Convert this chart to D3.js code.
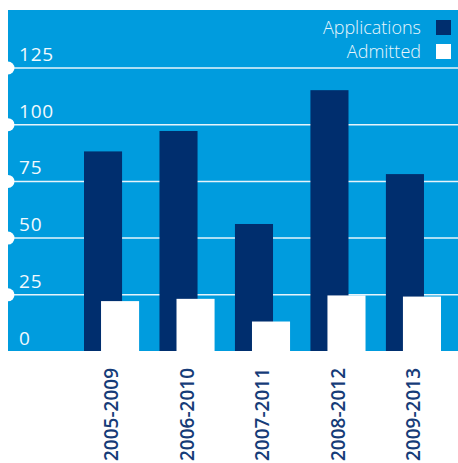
<!DOCTYPE html>
<html>
<head>
<meta charset="utf-8">
<script src="https://cdn.jsdelivr.net/npm/d3@7"></script>
<style>
  html, body { margin: 0; padding: 0; background: #fff; }
  svg { display: block; }
</style>
</head>
<body>
<script>
'use strict';

// chart data
const categories = ["2005-2009", "2006-2010", "2007-2011", "2008-2012", "2009-2013"];
const applications = [88, 97, 56, 115, 78];
const admitted = [22, 23, 13, 24.5, 24];
const yTicks = [0, 25, 50, 75, 100, 125];
const seriesNames = ["Applications", "Admitted"];

const blue = "#009cde";
const navy = "#002e6e";

const W = 458, H = 463;
const panel = { left: 8, top: 10, right: 458, bottom: 351 };

const svg = d3.select("body").append("svg")
  .attr("width", W)
  .attr("height", H);

// blue panel
svg.append("rect")
  .attr("x", panel.left)
  .attr("y", panel.top)
  .attr("width", panel.right - panel.left)
  .attr("height", panel.bottom - panel.top)
  .attr("fill", blue);

const y = d3.scaleLinear()
  .domain([0, 125])
  .range([panel.bottom, 67.5]);

const x = d3.scaleBand()
  .domain(categories)
  .range([84, 441])
  .paddingInner(0.27)
  .paddingOuter(0);

const barW = x.bandwidth() * 38 / 55;
const shift = x.bandwidth() - barW;

// gridlines + labels
const yAxis = svg.append("g")
  .attr("transform", "translate(" + panel.left + ",0)")
  .call(d3.axisLeft(y).tickValues(yTicks).tickSize(-(panel.right - panel.left)).tickFormat(d3.format("d")));
yAxis.select(".domain").remove();
yAxis.selectAll(".tick line")
  .attr("stroke", "#e6f4fb")
  .attr("stroke-width", 1.5)
  .attr("display", (d) => d === 0 ? "none" : null);
yAxis.selectAll(".tick text")
  .attr("x", 11)
  .attr("dy", -7)
  .attr("text-anchor", "start")
  .attr("fill", "#f2f9fd")
  .style("font-family", "'Open Sans', sans-serif")
  .style("font-size", "19px")
  .style("letter-spacing", "0.8px");
yAxis.selectAll(".tick")
  .filter((d) => d !== 0)
  .append("circle")
  .attr("r", 6.5)
  .attr("fill", "#fff");

// bars
svg.append("g").selectAll("rect")
  .data(categories)
  .join("rect")
  .attr("x", (d) => x(d))
  .attr("y", (d, i) => y(applications[i]))
  .attr("width", barW)
  .attr("height", (d, i) => y(0) - y(applications[i]))
  .attr("fill", navy);

svg.append("g").selectAll("rect")
  .data(categories)
  .join("rect")
  .attr("x", (d) => x(d) + shift)
  .attr("y", (d, i) => y(admitted[i]))
  .attr("width", barW)
  .attr("height", (d, i) => y(0) - y(admitted[i]))
  .attr("fill", "#fff");

// x labels
const xAxis = svg.append("g")
  .attr("transform", "translate(0," + panel.bottom + ")")
  .call(d3.axisBottom(x).tickSize(0));
xAxis.select(".domain").remove();
xAxis.selectAll(".tick text")
  .attr("transform", "translate(0,17) rotate(-90)")
  .attr("x", 0)
  .attr("y", 0)
  .attr("dy", "0.36em")
  .attr("text-anchor", "end")
  .attr("fill", "#163c78")
  .style("font-family", "'Open Sans', sans-serif")
  .style("font-size", "19px")
  .style("font-weight", "600");

// legend
const legend = svg.append("g");
const legendColors = [navy, "#fff"];
seriesNames.forEach((name, i) => {
  const ly = 20 + i * 24;
  legend.append("rect")
    .attr("x", 436)
    .attr("y", ly)
    .attr("width", 15)
    .attr("height", 15)
    .attr("fill", legendColors[i]);
  legend.append("text")
    .attr("x", 421)
    .attr("y", ly + 13.5)
    .attr("text-anchor", "end")
    .attr("fill", "#eaf6fc")
    .style("font-family", "'Open Sans', sans-serif")
    .style("font-size", "18px")
    .style("font-weight", "300")
    .text(name);
});
</script>
</body>
</html>
